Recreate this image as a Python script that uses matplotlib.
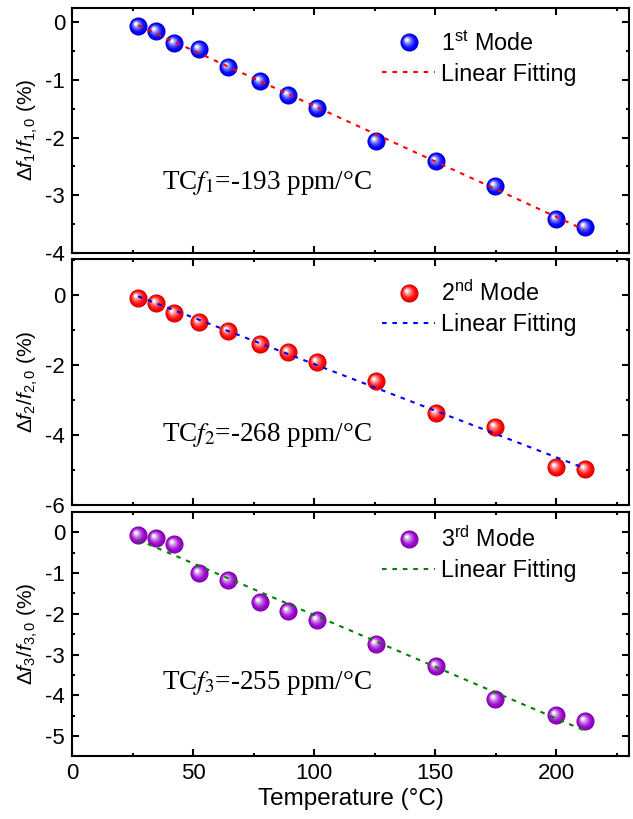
import numpy as np
import matplotlib
matplotlib.use('Agg')
import matplotlib.pyplot as plt
import matplotlib.colors as mcolors
from matplotlib.path import Path
from matplotlib.legend_handler import HandlerTuple
from matplotlib.ticker import MultipleLocator

plt.rcParams['font.family'] = ['Liberation Sans', 'DejaVu Sans']
plt.rcParams['mathtext.fontset'] = 'custom'
plt.rcParams['mathtext.rm'] = 'Liberation Sans'
plt.rcParams['mathtext.it'] = 'Liberation Sans:italic'
plt.rcParams['mathtext.bf'] = 'Liberation Sans:bold'
plt.rcParams['axes.unicode_minus'] = False

# temperatures (deg C)
temp = [27.3, 34.7, 42.0, 52.3, 64.3, 77.7, 89.0, 101.3, 125.7, 150.3, 174.7, 199.7, 211.7]

# relative frequency shift (%) per mode
mode1 = [-0.07, -0.15, -0.36, -0.46, -0.77, -1.02, -1.26, -1.48, -2.06, -2.41, -2.85, -3.41, -3.55]
mode2 = [-0.10, -0.23, -0.51, -0.78, -1.05, -1.41, -1.64, -1.92, -2.48, -3.37, -3.77, -4.91, -4.97]
mode3 = [-0.07, -0.14, -0.28, -1.00, -1.18, -1.70, -1.93, -2.15, -2.74, -3.29, -4.09, -4.48, -4.64]

mode_labels = ['1$^{\\mathrm{st}}$ Mode', '2$^{\\mathrm{nd}}$ Mode', '3$^{\\mathrm{rd}}$ Mode']
tcf_texts = ['TC$f_1$=-193 ppm/°C', 'TC$f_2$=-268 ppm/°C', 'TC$f_3$=-255 ppm/°C']
ylabels = [r'$\mathit{\Delta f}_1/\mathit{f}_{1,0}$ (%)',
           r'$\mathit{\Delta f}_2/\mathit{f}_{2,0}$ (%)',
           r'$\mathit{\Delta f}_3/\mathit{f}_{3,0}$ (%)']

ball_colors = ['#0000ff', '#ff0000', '#9900cc']
fit_colors = ['#ff0000', '#0000ff', '#008000']
ylims = [(-4, 0.25), (-6, 1.01), (-5.5, 0.5)]
ymajor = [1, 2, 1]
text_y = [0.285, 0.284, 0.30]
leg_y = [0.905, 0.915, 0.94]


def circle_marker(cx, cy, r):
    # anchor vertex at radius 1 keeps the same scale for every layer
    anchor = Path([(1.0, 0.0)], [Path.MOVETO])
    return Path.make_compound_path(anchor, Path.circle((cx, cy), r))


def draw_balls(ax, x, y, color, ms=13):
    base = np.array(mcolors.to_rgb(color))
    layers = [(circle_marker(0, 0, 1.0), base * 0.72),
              (circle_marker(0.02, -0.02, 0.93), base * 0.92)]
    n = 14
    for i in range(n):
        t = i / (n - 1)
        r = 0.86 * (1 - t) + 0.13 * t
        c = (-0.05 - 0.25 * t, 0.05 + 0.25 * t)
        w = t ** 1.5
        col = base * (1 - w) + np.array([1, 1, 1]) * w
        layers.append((circle_marker(c[0], c[1], r), np.clip(col, 0, 1)))
    handles = []
    for path, col in layers:
        h, = ax.plot(x, y, ls='none', marker=path, ms=ms, mfc=col,
                     mec='none', mew=0, zorder=3)
        handles.append(h)
    return tuple(handles)


fig = plt.figure(figsize=(6.33, 8.19), dpi=100)
left, right = 72 / 633, 629 / 633
panels = [(8, 252.7), (259.3, 504.7), (512, 756.3)]
axes = []
for top_px, bot_px in panels:
    ax = fig.add_axes([left, 1 - bot_px / 819, right - left, (bot_px - top_px) / 819])
    axes.append(ax)

for i, (ax, y) in enumerate(zip(axes, [mode1, mode2, mode3])):
    balls = draw_balls(ax, temp, y, ball_colors[i])
    k, b = np.polyfit(temp, y, 1)
    xf = np.array([temp[0], temp[-1]])
    fit, = ax.plot(xf, k * xf + b, color=fit_colors[i], lw=1.5,
                   ls=(0, (2.2, 2.8)), zorder=4)

    ax.set_xlim(0, 230)
    ax.set_ylim(*ylims[i])
    ax.xaxis.set_major_locator(MultipleLocator(50))
    ax.xaxis.set_minor_locator(MultipleLocator(25))
    ax.yaxis.set_major_locator(MultipleLocator(ymajor[i]))
    ax.yaxis.set_minor_locator(MultipleLocator(ymajor[i] / 2))
    ax.tick_params(which='both', direction='in', top=True, right=True,
                   width=1.5, labelsize=16, pad=5)
    ax.tick_params(which='major', length=5)
    ax.tick_params(which='minor', length=2.5)
    for sp in ax.spines.values():
        sp.set_linewidth(1.5)
    if i < 2:
        ax.tick_params(labelbottom=False)

    ax.set_ylabel(ylabels[i], fontsize=15, labelpad=4)
    ax.text(0.161, text_y[i], tcf_texts[i], transform=ax.transAxes,
            fontsize=19.5, fontfamily='Liberation Serif', math_fontfamily='stix',
            ha='left', va='center')
    ax.legend([balls, fit], [mode_labels[i], 'Linear Fitting'],
              handler_map={tuple: HandlerTuple(ndivide=1)},
              loc='upper left', bbox_to_anchor=(0.556, leg_y[i]),
              frameon=False, fontsize=16.8, borderpad=0, borderaxespad=0,
              handlelength=2.3, handletextpad=0.25, labelspacing=0.3)

axes[2].set_xlabel('Temperature (°C)', fontsize=17.5, labelpad=3)

fig.savefig('out.png', dpi=100)
